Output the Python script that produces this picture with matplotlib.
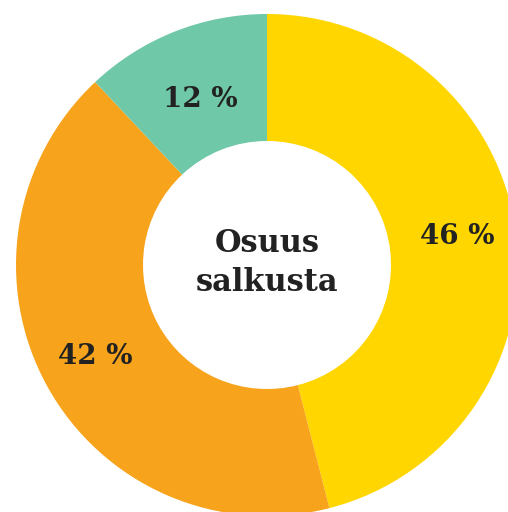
import matplotlib.pyplot as plt

# osuudet salkusta (%), myötäpäivään klo 12 alkaen
shares = [46, 42, 12]
colors = ["#FFD600", "#F7A31C", "#6FC8A7"]
center_text = "Osuus\nsalkusta"

fig = plt.figure(figsize=(5.08, 5.12), dpi=100)
ax = fig.add_axes([0, 0, 1, 1])

# keskipiste pikseleinä (267, 265), ulkosäde 251, sisäsäde 124
R = 251
wedges, texts, autotexts = ax.pie(
    shares, colors=colors, startangle=90, counterclock=False,
    radius=R, center=(0, 0),
    wedgeprops=dict(width=R - 124, linewidth=0),
    autopct=lambda p: f"{p:.0f} %", pctdistance=1.0,
    textprops=dict(fontsize=20, fontweight="bold", family="DejaVu Serif",
                   color="#222222"),
)

# etiketin etäisyys keskeltä (osuus säteestä) ja pieni pystysiirto
label_dist = [0.765, 0.78, 0.72]
label_dy = [4, 3, -3]
for t, d, dy in zip(autotexts, label_dist, label_dy):
    x, y = t.get_position()
    t.set_position((x * d, y * d + dy))

ax.text(0, 2, center_text, ha="center", va="center", fontsize=22,
        fontweight="bold", family="DejaVu Serif", color="#222222",
        linespacing=1.3)

ax.set_xlim(-267, 508 - 267)
ax.set_ylim(-(512 - 265), 265)
ax.set_aspect("equal")
ax.axis("off")

fig.savefig("out.png", dpi=100)
